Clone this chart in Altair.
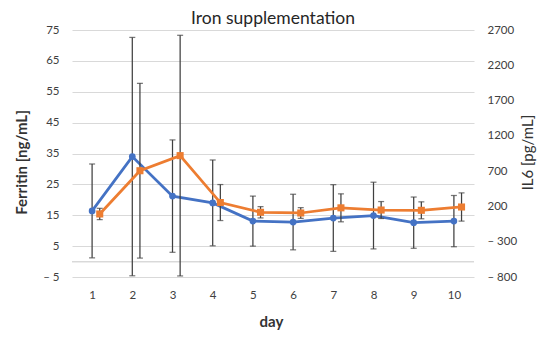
import altair as alt
import pandas as pd

days = [1, 2, 3, 4, 5, 6, 7, 8, 9, 10]
ferritin = [16.4, 34.0, 21.2, 19.0, 13.1, 12.8, 14.1, 14.9, 12.6, 13.1]
ferritin_sd = [15.2, 38.6, 18.2, 13.9, 8.1, 9.0, 10.8, 10.8, 8.3, 8.3]
il6 = [93, 706, 920, 255, 117, 107, 180, 149, 145, 192]
il6_sd = [80, 1238, 1705, 255, 80, 76, 198, 120, 120, 200]

left_ticks = [-5, 5, 15, 25, 35, 45, 55, 65, 75]
right_ticks = [-800, -300, 200, 700, 1200, 1700, 2200, 2700]

df = pd.DataFrame({"day": days, "ferritin": ferritin, "fsd": ferritin_sd,
                   "il6": il6, "isd": il6_sd})

FONT = "Lato"
BLUE = "#4472C4"
ORANGE = "#ED7D31"
ERR = "#404040"
LBL = "#404040"
neg_expr = "datum.value < 0 ? '\u2013 ' + format(abs(datum.value), 'd') : format(datum.value, 'd')"

xscale = alt.Scale(domain=[0.5, 10.5], nice=False, zero=False)
x_axis = alt.Axis(values=days, title="day", grid=False, domain=False, ticks=False,
                  labelPadding=12, labelFontSize=11.5, labelColor=LBL, format="d",
                  titleFontSize=15, titleFontWeight="bold", titleColor="#333333",
                  titleX=199, titleY=44, titleBaseline="middle", titleAnchor="middle")

yL = alt.Scale(domain=[-5, 75], nice=False, zero=False)
yR = alt.Scale(domain=[-800, 2700], nice=False, zero=False)

left_axis = alt.Axis(values=left_ticks, title="Ferritin [ng/mL]", grid=True,
                     gridColor="#d9d9d9", gridWidth=1, domain=False, ticks=False,
                     labelPadding=13, labelFontSize=11.5, labelColor=LBL,
                     labelExpr=neg_expr, titleFontSize=15, titleFontWeight="bold",
                     titleColor="#333333", titleAngle=-90, titleX=-51, titleY=132,
                     titleBaseline="middle", titleAlign="center")
right_axis = alt.Axis(values=right_ticks, title="IL6 [pg/mL]", orient="right",
                      grid=False, domain=False, ticks=False, labelPadding=13,
                      labelFontSize=11.5, labelColor=LBL, labelExpr=neg_expr,
                      titleFontSize=15, titleFontWeight="normal", titleColor="#333333",
                      titleAngle=-90, titleX=53, titleY=122, titleBaseline="middle",
                      titleAlign="center")

def X(field):
    return alt.X(field, type="quantitative", scale=xscale, axis=x_axis)

def YL(field):
    return alt.Y(field, type="quantitative", scale=yL, axis=left_axis)

def YR(field):
    return alt.Y(field, type="quantitative", scale=yR, axis=right_axis)

f = alt.Chart(df).transform_calculate(lo="datum.ferritin - datum.fsd",
                                      hi="datum.ferritin + datum.fsd",
                                      z="0")
f_zero = f.mark_rule(color="#d9d9d9", strokeWidth=1).encode(y=YL("z"))
f_err = f.mark_rule(color=ERR, strokeWidth=1.25).encode(x=X("day"), y=YL("lo"), y2="hi:Q")
f_cap_lo = f.mark_tick(color=ERR, orient="horizontal", size=6, thickness=1.25).encode(
    x=X("day"), y=YL("lo"))
f_cap_hi = f.mark_tick(color=ERR, orient="horizontal", size=6, thickness=1.25).encode(
    x=X("day"), y=YL("hi"))
f_line = f.mark_line(color=BLUE, strokeWidth=2.75).encode(x=X("day"), y=YL("ferritin"))
f_pts = f.mark_point(shape="circle", filled=True, color=BLUE, size=45, opacity=1).encode(
    x=X("day"), y=YL("ferritin"))
left_layer = alt.layer(f_zero, f_err, f_cap_lo, f_cap_hi, f_line, f_pts)

i = alt.Chart(df).transform_calculate(lo="datum.il6 - datum.isd",
                                      hi="datum.il6 + datum.isd",
                                      dx="datum.day + 0.19")
i_err = i.mark_rule(color=ERR, strokeWidth=1.25).encode(x=X("dx"), y=YR("lo"), y2="hi:Q")
i_cap_lo = i.mark_tick(color=ERR, orient="horizontal", size=6, thickness=1.25).encode(
    x=X("dx"), y=YR("lo"))
i_cap_hi = i.mark_tick(color=ERR, orient="horizontal", size=6, thickness=1.25).encode(
    x=X("dx"), y=YR("hi"))
i_line = i.mark_line(color=ORANGE, strokeWidth=2.75).encode(x=X("dx"), y=YR("il6"))
i_pts = i.mark_point(shape="square", filled=True, color=ORANGE, size=50, opacity=1).encode(
    x=X("dx"), y=YR("il6"))
right_layer = alt.layer(i_err, i_cap_lo, i_cap_hi, i_line, i_pts)

chart = alt.layer(left_layer, right_layer).resolve_scale(y="independent").properties(
    width=402, height=247,
    title=alt.TitleParams("Iron supplementation", fontSize=17.5, fontWeight="normal",
                          color="#262626", anchor="middle", offset=-3, font=FONT),
    autosize=alt.AutoSizeParams(type="none"),
    padding={"left": 64, "top": 22, "right": 65, "bottom": 62},
).configure(font=FONT, background="white").configure_view(stroke=None)

chart.save("out.html", embed_options={"renderer": "svg", "actions": False})
